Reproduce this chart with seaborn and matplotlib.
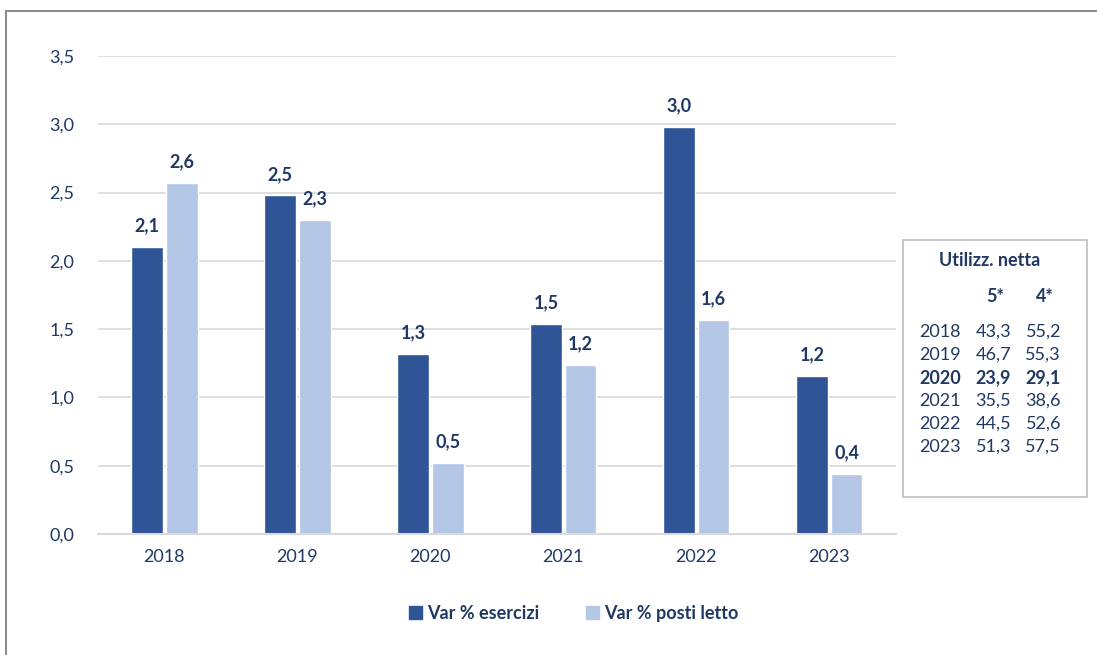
import numpy as np
import pandas as pd
import seaborn as sns
import matplotlib.pyplot as plt
import matplotlib.patches as mpatches

# Data
years = ["2018", "2019", "2020", "2021", "2022", "2023"]
var_esercizi = [2.10, 2.48, 1.32, 1.54, 2.98, 1.16]
var_posti_letto = [2.57, 2.30, 0.52, 1.24, 1.57, 0.44]
series_names = ["Var % esercizi", "Var % posti letto"]

table_years = ["2018", "2019", "2020", "2021", "2022", "2023"]
util_5 = ["43,3", "46,7", "23,9", "35,5", "44,5", "51,3"]
util_4 = ["55,2", "55,3", "29,1", "38,6", "52,6", "57,5"]
bold_year = "2020"

dark = "#2F5597"
light = "#B4C7E7"
navy = "#203864"

df = pd.DataFrame({
    "anno": years * 2,
    "valore": var_esercizi + var_posti_letto,
    "serie": [series_names[0]] * len(years) + [series_names[1]] * len(years),
})

sns.set_theme(style="white")
plt.rcParams['font.family'] = ['Lato', 'DejaVu Sans']
fs = 13

fig = plt.figure(figsize=(10.97, 6.55), dpi=100)
ax = fig.add_axes([0.0893, 0.1847, 0.7272, 0.7298])

sns.barplot(data=df, x="anno", y="valore", hue="serie", order=years,
            hue_order=series_names, palette=[dark, light], width=0.52,
            gap=0.08, saturation=1, ax=ax, legend=False)

ax.set_ylim(0, 3.5)
ax.set_yticks(np.arange(0, 3.51, 0.5))
ax.set_yticklabels([f"{t:.1f}".replace(".", ",") for t in np.arange(0, 3.51, 0.5)])
ax.yaxis.grid(True, color="#D9D9D9", lw=1.2)
ax.set_axisbelow(True)
ax.set_xlabel("")
ax.set_ylabel("")
for s in ["top", "right", "left"]:
    ax.spines[s].set_visible(False)
ax.spines["bottom"].set_color("#D9D9D9")
ax.spines["bottom"].set_linewidth(1.5)
ax.tick_params(axis="both", length=0, labelsize=fs, labelcolor=navy)
ax.tick_params(axis="y", pad=17)
ax.tick_params(axis="x", pad=11)

for cont in ax.containers:
    ax.bar_label(cont, labels=[f"{b.get_height():.1f}".replace(".", ",") for b in cont],
                 padding=9, fontsize=fs, fontweight="bold", color=navy)

# Legend at bottom
handles = [mpatches.Patch(color=dark, label=series_names[0]),
           mpatches.Patch(color=light, label=series_names[1])]
leg = fig.legend(handles=handles, loc="center", bbox_to_anchor=(0.523, 0.064), ncol=2,
                 frameon=False, handlelength=0.7, handleheight=0.7, handletextpad=0.3,
                 columnspacing=2.6, prop={"weight": "bold", "size": fs})
for t in leg.get_texts():
    t.set_color(navy)

# Outer frame
W, H = 1097, 655
fig.patches.append(mpatches.Rectangle((6 / W, -0.1), 1.2, (H - 11) / H + 0.1,
                                      transform=fig.transFigure, fill=False,
                                      edgecolor="#8C8C8C", lw=1.5))

# Inset table box
fig.patches.append(mpatches.Rectangle((903 / W, (H - 497) / H), 184 / W, 257 / H,
                                      transform=fig.transFigure, fill=False,
                                      edgecolor="#BFBFBF", lw=1.2))

def fy(py):
    return (H - py) / H

fig.text(990 / W, fy(261), "Utilizz. netta", ha="center", va="center",
         fontsize=fs, fontweight="bold", color=navy)
fig.text(1004 / W, fy(296), "5*", ha="right", va="center",
         fontsize=fs, fontweight="bold", color=navy)
fig.text(1054 / W, fy(296), "4*", ha="right", va="center",
         fontsize=fs, fontweight="bold", color=navy)
for i, (yr, a, b) in enumerate(zip(table_years, util_5, util_4)):
    py = 332 + i * 23
    w = "bold" if yr == bold_year else "normal"
    fig.text(961 / W, fy(py), yr, ha="right", va="center", fontsize=fs, fontweight=w, color=navy)
    fig.text(1011 / W, fy(py), a, ha="right", va="center", fontsize=fs, fontweight=w, color=navy)
    fig.text(1061 / W, fy(py), b, ha="right", va="center", fontsize=fs, fontweight=w, color=navy)

fig.savefig("out.png", dpi=100)
